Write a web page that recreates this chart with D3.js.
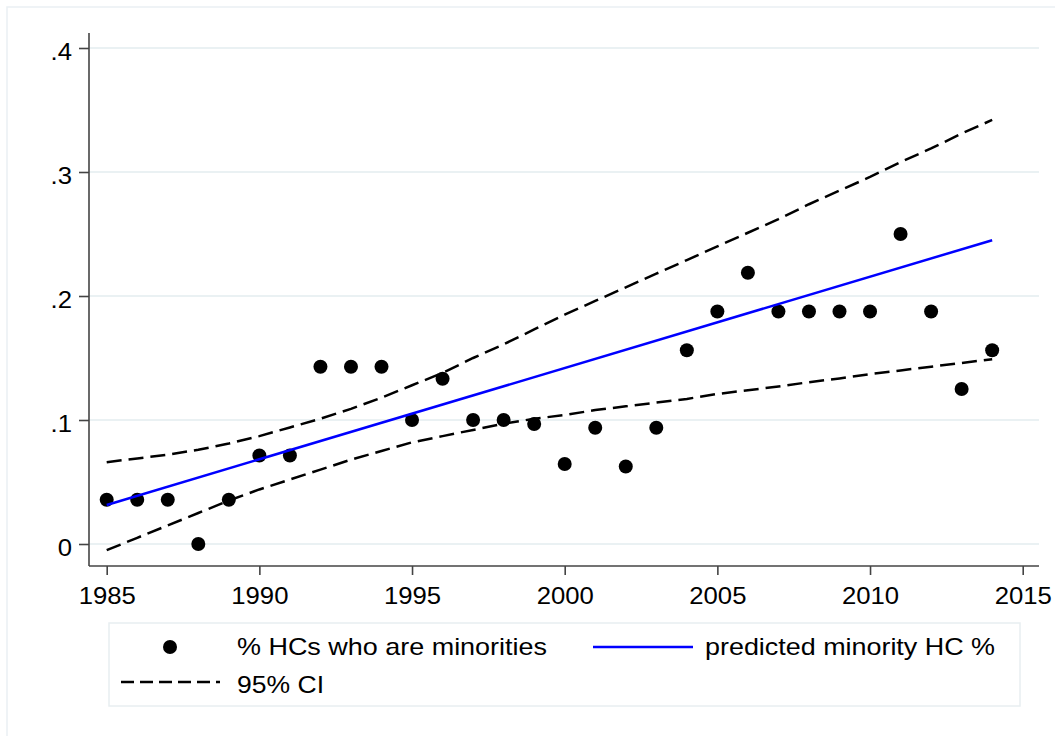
<!DOCTYPE html>
<html>
<head>
<meta charset="utf-8">
<script src="https://cdn.jsdelivr.net/npm/d3@7"></script>
<style>
  html, body { margin: 0; padding: 0; background: #fff; }
  svg { display: block; }
  text { font-family: "Liberation Sans", Arial, sans-serif; fill: #000; }
</style>
</head>
<body>
<svg id="chart" width="1055" height="736"></svg>
<script>
// ---- data ----
const years = [1985,1986,1987,1988,1989,1990,1991,1992,1993,1994,1995,1996,1997,1998,1999,
               2000,2001,2002,2003,2004,2005,2006,2007,2008,2009,2010,2011,2012,2013,2014];
const pctMinority = [0.0357,0.0357,0.0357,0,0.0357,0.0714,0.0714,0.1429,0.1429,0.1429,0.1,0.1333,0.1,0.1,0.0968,
                     0.0645,0.0938,0.0625,0.0938,0.1563,0.1875,0.2188,0.1875,0.1875,0.1875,0.1875,0.25,0.1875,0.125,0.1563];
const ciUpper = [0.066,0.069,0.072,0.076,0.081,0.087,0.094,0.101,0.109,0.118,0.128,0.138,0.150,0.161,0.173,
                 0.185,0.196,0.207,0.218,0.229,0.240,0.251,0.262,0.274,0.285,0.296,0.308,0.319,0.331,0.342];
const ciLower = [-0.005,0.005,0.015,0.025,0.035,0.044,0.052,0.060,0.068,0.075,0.082,0.087,0.092,0.097,0.101,
                 0.104,0.108,0.111,0.114,0.117,0.121,0.124,0.127,0.1305,0.1335,0.137,0.140,0.143,0.146,0.149];
const fitYears = [1985, 2014];
const fitValues = [0.0315, 0.245];
const xTicks = [1985,1990,1995,2000,2005,2010,2015];
const yTicks = [0,0.1,0.2,0.3,0.4];
const yTickLabels = ["0",".1",".2",".3",".4"];
const legendLabels = ["% HCs who are minorities","predicted minority HC %","95% CI"];

const svg = d3.select("#chart");

// outer frame
svg.append("rect").attr("x",7).attr("y",7).attr("width",1100).attr("height",800)
   .attr("fill","#fff").attr("stroke","#eaf0f3").attr("stroke-width",1.5);

const x = d3.scaleLinear().domain([1985,2015]).range([106.7,1022.7]);
const y = d3.scaleLinear().domain([0,0.4]).range([544,48]);
const axisX0 = 89, axisX1 = 1039, axisYtop = 33, axisYbottom = 566;

// gridlines
svg.append("g").selectAll("line").data(yTicks).join("line")
  .attr("x1",axisX0).attr("x2",axisX1)
  .attr("y1",d=>y(d)).attr("y2",d=>y(d))
  .attr("stroke","#eaf1f3").attr("stroke-width",2);

// axes
const ax = d3.axisBottom(x).tickValues(xTicks).tickFormat(d3.format("d")).tickSize(9).tickSizeOuter(0);
const gx = svg.append("g").attr("transform",`translate(0,${axisYbottom})`).call(ax);
gx.select(".domain").remove();
gx.append("line").attr("x1",axisX0).attr("x2",axisX1).attr("y1",0).attr("y2",0);
gx.selectAll("line").attr("stroke","#444").attr("stroke-width",1.6);
gx.selectAll("text").attr("y",38).attr("dy",null).style("font-size","24px")
  .attr("font-family","Liberation Sans, Arial, sans-serif");

const ay = d3.axisLeft(y).tickValues(yTicks).tickFormat((d,i)=>yTickLabels[i]).tickSize(10).tickSizeOuter(0);
const gy = svg.append("g").attr("transform",`translate(${axisX0},0)`).call(ay);
gy.select(".domain").remove();
gy.append("line").attr("x1",0).attr("x2",0).attr("y1",axisYtop).attr("y2",axisYbottom);
gy.selectAll("line").attr("stroke","#444").attr("stroke-width",1.6);
gy.selectAll("text").attr("x",-17).attr("dy",null).attr("y",11.5).style("font-size","24px")
  .attr("font-family","Liberation Sans, Arial, sans-serif");

// horizontally stretch tick labels like the reference rendering
[gx, gy].forEach(g => g.selectAll("text").each(function(){
  const w = this.getComputedTextLength();
  d3.select(this).attr("textLength", w*1.07).attr("lengthAdjust","spacingAndGlyphs");
}));

// data
const pts = years.map((yr,i)=>({yr, v:pctMinority[i], up:ciUpper[i], lo:ciLower[i]}));

svg.append("g").selectAll("circle").data(pts).join("circle")
  .attr("cx",d=>x(d.yr)).attr("cy",d=>y(d.v)).attr("r",7).attr("fill","#000");

const fitData = fitYears.map((yr,i)=>({yr, v:fitValues[i]}));
svg.append("path").datum(fitData)
  .attr("d", d3.line().x(d=>x(d.yr)).y(d=>y(d.v)))
  .attr("fill","none").attr("stroke","#0000ff").attr("stroke-width",2.5);

const dash = "15,7";
svg.append("path").datum(pts)
  .attr("d", d3.line().x(d=>x(d.yr)).y(d=>y(d.up)))
  .attr("fill","none").attr("stroke","#000").attr("stroke-width",2.5).attr("stroke-dasharray",dash);
svg.append("path").datum(pts)
  .attr("d", d3.line().x(d=>x(d.yr)).y(d=>y(d.lo)))
  .attr("fill","none").attr("stroke","#000").attr("stroke-width",2.5).attr("stroke-dasharray",dash);

// legend
const lg = svg.append("g");
lg.append("rect").attr("x",109).attr("y",623).attr("width",911).attr("height",83)
  .attr("fill","#fff").attr("stroke","#e8eef1").attr("stroke-width",1.5);
lg.append("circle").attr("cx",170).attr("cy",647).attr("r",7).attr("fill","#000");
lg.append("line").attr("x1",593).attr("x2",693).attr("y1",647).attr("y2",647)
  .attr("stroke","#0000ff").attr("stroke-width",2.5);
lg.append("line").attr("x1",121).attr("x2",220).attr("y1",682).attr("y2",682)
  .attr("stroke","#000").attr("stroke-width",2.5).attr("stroke-dasharray","13,6");
const legendPos = [[237,655,310],[705,655,290],[237,693,87]];
legendLabels.forEach((t,i)=>{
  lg.append("text").attr("x",legendPos[i][0]).attr("y",legendPos[i][1])
    .attr("textLength",legendPos[i][2]).attr("lengthAdjust","spacingAndGlyphs")
    .style("font-size","24px").text(t);
});
</script>
</body>
</html>
